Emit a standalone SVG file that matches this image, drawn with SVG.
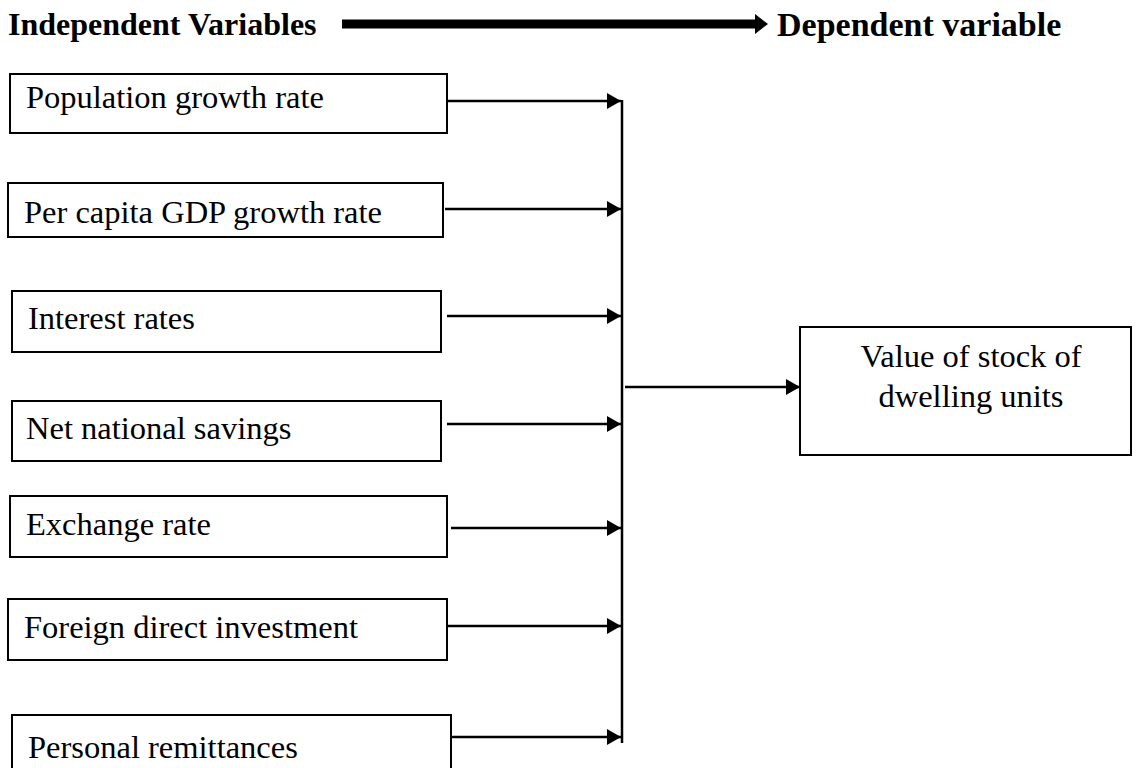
<svg xmlns="http://www.w3.org/2000/svg" width="1137" height="768" viewBox="0 0 1137 768">
<defs>
<marker id="ah" markerWidth="14" markerHeight="16" refX="14" refY="8" orient="auto" markerUnits="userSpaceOnUse">
<path d="M0,0 L14,8 L0,16 Z" fill="#000"/>
</marker>
<style>
.box{fill:#fff;stroke:#000;stroke-width:2}
.t{font-family:"Liberation Serif","Times New Roman",serif;font-size:32.5px;fill:#000}
.h{font-family:"Liberation Serif","Times New Roman",serif;font-size:32px;font-weight:bold;fill:#000}
.c{stroke:#000;stroke-width:2.5;fill:none}
</style>
</defs>
<rect width="1137" height="768" fill="#fff"/>
<g id="header">
<text class="h" x="8" y="35">Independent Variables</text>
<rect x="342" y="19.5" width="414" height="9" fill="#000"/>
<path d="M755,14 L768,24 L755,34 Z" fill="#000"/>
<text class="h" x="777" y="36" style="font-size:34px">Dependent variable</text>
</g>
<g id="n1"><rect class="box" x="10" y="74" width="437" height="59"/><text class="t" x="26" y="108">Population growth rate</text></g>
<g id="n2"><rect class="box" x="8" y="183" width="435" height="54"/><text class="t" x="24" y="223">Per capita GDP growth rate</text></g>
<g id="n3"><rect class="box" x="12" y="291" width="429" height="61"/><text class="t" x="28" y="329">Interest rates</text></g>
<g id="n4"><rect class="box" x="12" y="401" width="429" height="60"/><text class="t" x="26" y="439">Net national savings</text></g>
<g id="n5"><rect class="box" x="10" y="496" width="437" height="61"/><text class="t" x="26" y="535">Exchange rate</text></g>
<g id="n6"><rect class="box" x="8" y="599" width="439" height="61"/><text class="t" x="24" y="638">Foreign direct investment</text></g>
<g id="n7"><rect class="box" x="12" y="715" width="439" height="70"/><text class="t" x="28" y="758">Personal remittances</text></g>
<g id="target"><rect class="box" x="800" y="327" width="331" height="128"/><text class="t" x="971" y="367" text-anchor="middle">Value of stock of</text><text class="t" x="971" y="407" text-anchor="middle">dwelling units</text></g>
<g id="connectors">
<line class="c" x1="622" y1="100" x2="622" y2="743"/>
<line class="c" x1="448" y1="101" x2="621" y2="101" marker-end="url(#ah)"/>
<line class="c" x1="445" y1="209" x2="621" y2="209" marker-end="url(#ah)"/>
<line class="c" x1="447" y1="316" x2="621" y2="316" marker-end="url(#ah)"/>
<line class="c" x1="447" y1="424" x2="621" y2="424" marker-end="url(#ah)"/>
<line class="c" x1="451" y1="528" x2="621" y2="528" marker-end="url(#ah)"/>
<line class="c" x1="447" y1="626" x2="621" y2="626" marker-end="url(#ah)"/>
<line class="c" x1="451" y1="737" x2="621" y2="737" marker-end="url(#ah)"/>
<line class="c" x1="625" y1="387" x2="800" y2="387" marker-end="url(#ah)"/>
</g>
</svg>
